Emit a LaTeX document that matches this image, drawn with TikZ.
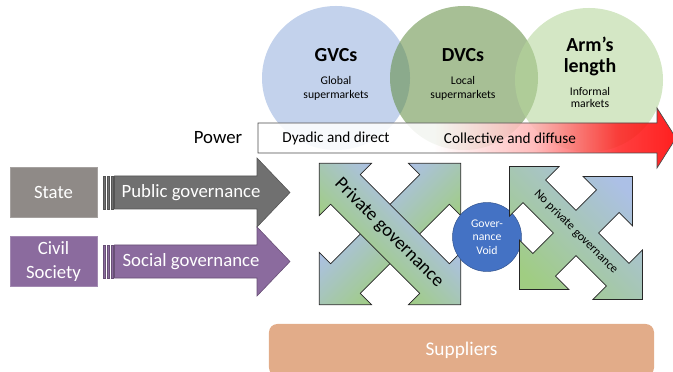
\documentclass[tikz,border=0pt]{standalone}
\usepackage{fontspec}
\setmainfont{Carlito}
\usetikzlibrary{shapes.geometric}

\definecolor{gvcblue}{RGB}{180,199,231}
\definecolor{dvcgreen}{RGB}{94,138,62}
\definecolor{armgreen}{RGB}{181,214,155}
\definecolor{stategray}{RGB}{143,138,135}
\definecolor{pubgray}{RGB}{112,112,112}
\definecolor{civpurple}{RGB}{139,107,158}
\definecolor{voidblue}{RGB}{68,114,196}
\definecolor{supplier}{RGB}{226,172,137}
\definecolor{xgreen}{RGB}{160,205,130}
\definecolor{xblue}{RGB}{172,192,230}

% white on the left, red towards the head
\pgfdeclarehorizontalshading{powerfade}{100bp}{color(0bp)=(white); color(25bp)=(white);
  color(46bp)=(white); color(58bp)=(red!30); color(68bp)=(red!85); color(75bp)=(red); color(100bp)=(red)}

% four headed arrow: #1 style, #2 x arm, #3 y arm, #4 shaft half width, #5 head size
\newcommand{\crossarrow}[5]{%
  \path[#1] (#4,#4) -- ({#2-#5},#4) -- ({#2-#5},#5) -- (#2,0) -- ({#2-#5},-#5) -- ({#2-#5},-#4) -- (#4,-#4)
    -- (#4,{-(#3-#5)}) -- (#5,{-(#3-#5)}) -- (0,-#3) -- (-#5,{-(#3-#5)}) -- (-#4,{-(#3-#5)}) -- (-#4,-#4)
    -- ({-(#2-#5)},-#4) -- ({-(#2-#5)},-#5) -- (-#2,0) -- ({-(#2-#5)},#5) -- ({-(#2-#5)},#4) -- (-#4,#4)
    -- (-#4,{#3-#5}) -- (-#5,{#3-#5}) -- (0,#3) -- (#5,{#3-#5}) -- (#4,{#3-#5}) -- cycle;}

% double headed bar along x: #1 style, #2 half length, #3 shaft half width, #4 head size
\newcommand{\duoarrow}[4]{%
  \path[#1] (-#2,0) -- ({-#2+#4},#4) -- ({-#2+#4},#3) -- ({#2-#4},#3) -- ({#2-#4},#4) -- (#2,0)
    -- ({#2-#4},-#4) -- ({#2-#4},-#3) -- ({-#2+#4},-#3) -- ({-#2+#4},-#4) -- cycle;}

\tikzset{
  chain/.style={ellipse, inner sep=0pt, minimum width=4.44cm, minimum height=4.32cm},
  title/.style={font=\fontsize{17}{18}\selectfont\bfseries, align=center},
  sub/.style={font=\fontsize{10}{12}\selectfont, align=center},
  lbl/.style={text=white, font=\fontsize{16}{20}\selectfont, align=center},
  actor/.style={draw=#1!80!white, fill=#1, minimum width=2.61cm, minimum height=1.5cm},
  govarrow/.style={draw=#1!75!black, fill=#1, line width=0.5pt},
  cross/.style={draw=black!85, line width=0.6pt},
}

\begin{document}
\begin{tikzpicture}[x=0.03cm, y=-0.03cm]
  \useasboundingbox (0,0) rectangle (673,372);

  % value chains
  \node[chain, fill=gvcblue, fill opacity=0.8] (gvc) at (336,78) {};
  \node[chain, fill=dvcgreen, fill opacity=0.55] (dvc) at (464,78) {};
  \node[chain, fill=armgreen, fill opacity=0.58] (arm) at (589,80) {};
  \node[title] (gvctitle) at (336,55) {GVCs};
  \node[sub] (gvcsub) at (336,88) {Global\\supermarkets};
  \node[title] (dvctitle) at (463,55) {DVCs};
  \node[sub] (dvcsub) at (463,88) {Local\\supermarkets};
  \node[title] (armtitle) at (590,56) {Arm’s\\length};
  \node[sub, font=\fontsize{10}{11}\selectfont] (armsub) at (590,97.5) {Informal\\markets};

  % power
  \draw[draw=black!70, line width=0.6pt, fill opacity=0.88, shading=powerfade]
    (258,123) -- (657,123) -- (657,108) -- (676,138) -- (657,168) -- (657,153) -- (258,153) -- cycle;
  \node[font=\fontsize{16}{20}\selectfont] (power) at (218,138) {Power};
  \node[font=\fontsize{13}{16}\selectfont] (dyadic) at (336,138) {Dyadic and direct};
  \node[font=\fontsize{13}{16}\selectfont] (diffuse) at (510,138) {Collective and diffuse};

  % state and civil society
  \node[actor=stategray, lbl] (state) at (53.5,192) {State};
  \node[actor=civpurple, lbl] (civil) at (53.5,261.5) {Civil\\Society};

  \foreach \sx in {103,107,111}
    \draw[govarrow=pubgray] (\sx,176) rectangle ++(2.6,33);
  \draw[govarrow=pubgray] (114.5,176) -- (257,176) -- (257,158) -- (290,192.5) -- (257,227) -- (257,209) -- (114.5,209) -- cycle;
  \node[lbl] (public) at (191,193) {Public governance};

  \foreach \sx in {103,107,111}
    \draw[govarrow=civpurple] (\sx,245) rectangle ++(2.6,33);
  \draw[govarrow=civpurple] (114.5,245) -- (257,245) -- (257,227) -- (290,261.5) -- (257,296) -- (257,278) -- (114.5,278) -- cycle;
  \node[lbl] (social) at (191,262) {Social governance};

  % private governance, two crossed bars
  \begin{scope}[transform canvas={shift={(390,234)}, rotate=45}]
    \duoarrow{cross, top color=xblue, bottom color=xgreen}{100}{21}{37}
    \duoarrow{cross, rotate=90, left color=xgreen, right color=xblue}{100}{21}{37}
  \end{scope}
  \node[rotate=-45, font=\fontsize{16}{20}\selectfont] (private) at (389,233) {Private governance};

  % governance void
  \node[circle, draw=voidblue!70!black, fill=voidblue, minimum size=2.07cm, inner sep=0pt,
    text=white, font=\fontsize{10}{11.5}\selectfont, align=center] (void) at (487,237) {Gover-\\nance\\Void};

  % no private governance
  \begin{scope}[shift={(576,233)}, rotate=45]
    \crossarrow{cross, left color=xgreen, right color=xblue, shading angle=135}{80}{94}{16}{35}
  \end{scope}
  \node[rotate=-45, font=\fontsize{10.5}{12}\selectfont] (noprivate) at (576,232) {No private governance};

  % suppliers
  \node[fill=supplier, rounded corners=0.25cm, minimum width=11.55cm, minimum height=1.56cm, lbl,
    font=\fontsize{16.5}{20}\selectfont] (supp) at (461.5,350) {Suppliers};
\end{tikzpicture}
\end{document}
